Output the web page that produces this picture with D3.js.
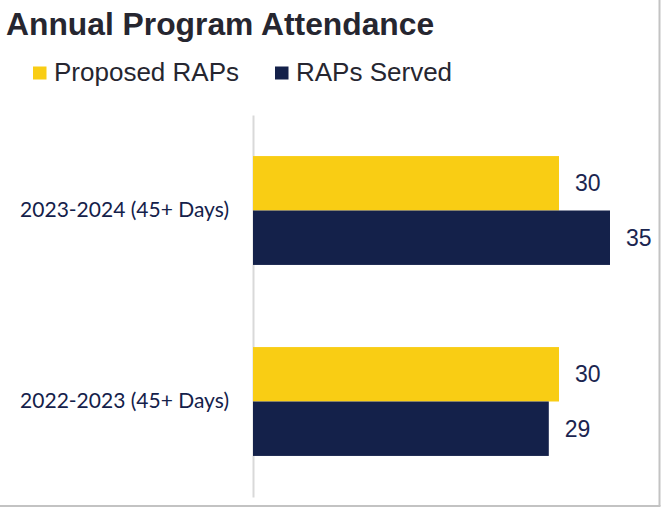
<!DOCTYPE html>
<html>
<head>
<meta charset="utf-8">
<script src="https://cdn.jsdelivr.net/npm/d3@7"></script>
<style>
  html, body { margin: 0; padding: 0; background: #ffffff; }
  svg { display: block; }
</style>
</head>
<body>
<svg id="chart" width="663" height="510"></svg>
<script>
const categories = ["2023-2024 (45+ Days)", "2022-2023 (45+ Days)"];
const seriesNames = ["Proposed RAPs", "RAPs Served"];
const proposedRAPs = [30, 30];
const rapsServed = [35, 29];
const seriesColors = ["#F9CD14", "#14214A"];

const svg = d3.select("#chart");

// frame (right & bottom visible)
svg.append("line").attr("x1", 659.5).attr("x2", 659.5).attr("y1", 0).attr("y2", 506)
  .attr("stroke", "#c3c3c3").attr("stroke-width", 2);
svg.append("line").attr("x1", 0).attr("x2", 660.5).attr("y1", 506).attr("y2", 506)
  .attr("stroke", "#c3c3c3").attr("stroke-width", 2);

// title
svg.append("text").attr("x", 6).attr("y", 35)
  .attr("font-family", "Liberation Sans, Arial, sans-serif")
  .attr("font-weight", "bold").attr("font-size", 31.8)
  .attr("fill", "#262630").text("Annual Program Attendance");

// legend
const legendX = [33, 275];
seriesNames.forEach((name, i) => {
  const g = svg.append("g").attr("transform", `translate(${legendX[i]},0)`);
  g.append("rect").attr("x", 0).attr("y", 66.5).attr("width", 13.5).attr("height", 13)
    .attr("fill", seriesColors[i]);
  g.append("text").attr("x", 21).attr("y", 81)
    .attr("font-family", "Liberation Sans, Arial, sans-serif")
    .attr("font-size", 26).attr("fill", "#262630").text(name);
});

// scales
const x = d3.scaleLinear().domain([0, 40]).range([253, 661]);
const y = d3.scaleBand().domain(categories).range([115, 497])
  .paddingInner(0.43).paddingOuter(0.215);
const ySub = d3.scaleBand().domain(seriesNames).range([0, y.bandwidth()]).padding(0);

const rows = categories.map((c, i) => ({
  cat: c,
  values: [
    { s: seriesNames[0], v: proposedRAPs[i], color: seriesColors[0] },
    { s: seriesNames[1], v: rapsServed[i], color: seriesColors[1] }
  ]
}));

// category axis
const yAxis = d3.axisLeft(y).tickSize(0).tickPadding(24);
const ax = svg.append("g").attr("transform", `translate(${x(0)},0)`).call(yAxis);
ax.select(".domain").attr("stroke", "#d9d9d9").attr("stroke-width", 2);
ax.selectAll(".tick text")
  .attr("font-family", "Lato, 'Open Sans', sans-serif")
  .attr("font-size", 21).attr("fill", "#14214A");

const groups = svg.append("g").selectAll("g").data(rows).join("g")
  .attr("transform", d => `translate(0,${y(d.cat)})`);

groups.selectAll("rect").data(d => d.values).join("rect")
  .attr("x", x(0))
  .attr("y", d => ySub(d.s))
  .attr("width", d => x(d.v) - x(0))
  .attr("height", ySub.bandwidth())
  .attr("fill", d => d.color);

groups.selectAll("text.val").data(d => d.values).join("text")
  .attr("class", "val")
  .attr("x", d => x(d.v) + 16)
  .attr("y", d => ySub(d.s) + ySub.bandwidth() / 2)
  .attr("dy", "0.35em")
  .attr("font-family", "Liberation Sans, Arial, sans-serif")
  .attr("font-size", 23).attr("fill", "#1B2550")
  .text(d => d.v);
</script>
</body>
</html>
